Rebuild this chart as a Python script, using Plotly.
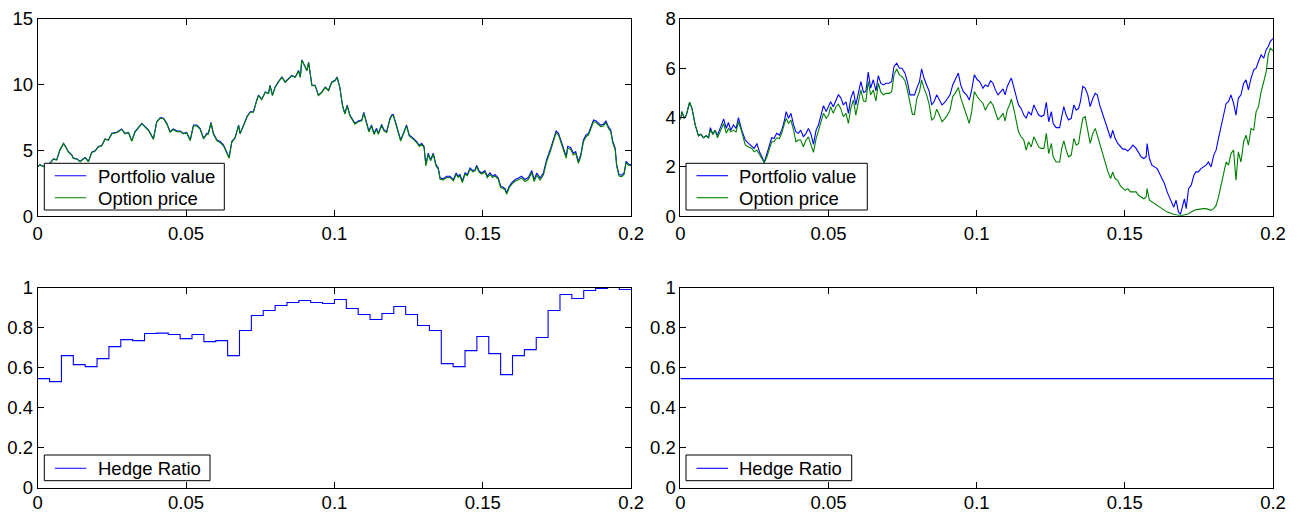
import plotly.graph_objects as go

# ---------------- data ----------------
# Top-left: delta-hedged portfolio vs option price
t_left = [0.0000, 0.0008, 0.0019, 0.0030, 0.0042, 0.0053, 0.0064, 0.0075, 0.0087, 0.0094,
          0.0103, 0.0115, 0.0120, 0.0132, 0.0143, 0.0154, 0.0160, 0.0171, 0.0182, 0.0193,
          0.0205, 0.0216, 0.0227, 0.0238, 0.0250, 0.0266, 0.0283, 0.0294, 0.0306, 0.0317,
          0.0328, 0.0339, 0.0351, 0.0362, 0.0373, 0.0390, 0.0401, 0.0413, 0.0424, 0.0435,
          0.0446, 0.0457, 0.0469, 0.0480, 0.0491, 0.0502, 0.0514, 0.0525, 0.0536, 0.0547,
          0.0559, 0.0570, 0.0575, 0.0584, 0.0592, 0.0604, 0.0615, 0.0626, 0.0637, 0.0645,
          0.0654, 0.0665, 0.0677, 0.0682, 0.0694, 0.0705, 0.0716, 0.0727, 0.0738, 0.0744,
          0.0755, 0.0767, 0.0778, 0.0783, 0.0791, 0.0800, 0.0812, 0.0823, 0.0834, 0.0845,
          0.0856, 0.0868, 0.0879, 0.0885, 0.0890, 0.0902, 0.0907, 0.0913, 0.0924, 0.0935,
          0.0946, 0.0958, 0.0969, 0.0980, 0.0991,
          0.1002, 0.1009, 0.1018, 0.1027, 0.1035, 0.1043, 0.1052, 0.1063, 0.1069,
          0.1080, 0.1092, 0.1099, 0.1108, 0.1116, 0.1125, 0.1133, 0.1142, 0.1148, 0.1159,
          0.1167, 0.1176, 0.1187, 0.1193, 0.1198, 0.1207, 0.1215, 0.1223, 0.1232, 0.1243,
          0.1252, 0.1260, 0.1268, 0.1277, 0.1286, 0.1294, 0.1302, 0.1308, 0.1316, 0.1324,
          0.1333, 0.1342, 0.1350, 0.1356, 0.1367, 0.1378, 0.1389, 0.1401, 0.1410, 0.1417,
          0.1423, 0.1431, 0.1440, 0.1448, 0.1457, 0.1466, 0.1474, 0.1479, 0.1488, 0.1496,
          0.1507, 0.1515, 0.1524, 0.1533, 0.1541, 0.1552, 0.1560, 0.1569, 0.1575, 0.1580,
          0.1589, 0.1597, 0.1609, 0.1620, 0.1631, 0.1642, 0.1654, 0.1665, 0.1673, 0.1682,
          0.1693, 0.1704, 0.1715, 0.1727, 0.1738, 0.1747, 0.1755, 0.1764, 0.1772, 0.1781,
          0.1786, 0.1796, 0.1805, 0.1813, 0.1822, 0.1830, 0.1839, 0.1848, 0.1856, 0.1864,
          0.1873, 0.1882, 0.1890, 0.1897, 0.1906, 0.1915, 0.1923, 0.1931, 0.1938, 0.1946,
          0.1951, 0.1959, 0.1968, 0.1976, 0.1983, 0.1991, 0.2000]

portfolio_left = [3.79, 3.92, 3.79, 3.92, 4.05, 4.37, 4.30, 5.05, 5.55, 5.30,
                  4.92, 4.67, 4.42, 4.37, 4.17, 4.37, 4.47, 4.17, 4.87, 4.97,
                  5.30, 5.38, 5.88, 5.80, 6.30, 6.38, 6.63, 6.30, 6.38, 5.73,
                  6.43, 6.73, 7.06, 6.80, 6.56, 5.88, 7.19, 7.49, 7.44, 7.06,
                  6.43, 6.63, 6.48, 6.48, 6.30, 6.38, 5.80, 6.93, 6.93, 6.68,
                  5.93, 6.30, 6.30, 7.14, 6.30, 5.80, 5.68, 5.43, 4.92, 4.47,
                  5.68, 5.98, 6.93, 6.30, 6.93, 7.56, 7.94, 7.94, 8.82, 9.20,
                  8.90, 9.45, 9.35, 9.95, 9.20, 9.82, 10.25, 10.58, 10.20, 10.45,
                  10.70, 10.58, 11.08, 10.58, 11.88, 11.33, 11.08, 11.70, 9.95, 9.95,
                  9.20, 9.45, 9.82, 9.57, 10.20,
                  10.33, 10.58, 9.82, 8.44, 7.81, 8.44, 7.69, 7.31, 7.06,
                  7.24, 7.31, 7.89, 7.19, 6.48, 6.93, 6.30, 6.68, 6.30, 6.98,
                  6.56, 6.43, 7.44, 7.69, 7.74, 7.06, 6.43, 5.80, 6.30, 6.93,
                  6.18, 6.06, 5.88, 5.68, 5.38, 5.55, 5.30, 3.92, 4.80, 4.30,
                  4.80, 3.92, 3.67, 2.91, 2.86, 3.04, 3.04, 2.79, 3.29, 3.04,
                  3.17, 2.66, 3.29, 3.17, 3.67, 3.47, 3.54, 3.87, 3.42, 3.29,
                  3.47, 3.04, 3.29, 3.04, 3.17, 2.91, 2.29, 2.21, 2.11, 1.78,
                  2.29, 2.54, 2.79, 2.91, 3.04, 2.79, 2.96, 3.47, 2.79, 3.29,
                  2.91, 3.29, 4.30, 5.05, 5.80, 6.48, 6.30, 5.68, 5.05, 4.55,
                  5.30, 5.23, 4.80, 4.92, 4.17, 4.67, 5.80, 6.18, 6.30, 6.81,
                  7.31, 7.24, 7.06, 6.93, 6.98, 7.24, 6.81, 6.56, 5.68, 5.18,
                  3.92, 3.17, 3.12, 3.29, 4.17, 3.97, 3.92]

option_left = [3.77, 3.90, 3.77, 3.90, 4.03, 4.34, 4.27, 5.02, 5.52, 5.27,
               4.89, 4.64, 4.39, 4.34, 4.14, 4.34, 4.44, 4.14, 4.84, 4.94,
               5.27, 5.35, 5.85, 5.77, 6.27, 6.35, 6.60, 6.27, 6.35, 5.70,
               6.40, 6.70, 7.03, 6.77, 6.53, 5.85, 7.16, 7.46, 7.41, 7.02,
               6.38, 6.58, 6.43, 6.43, 6.25, 6.33, 5.74, 6.87, 6.87, 6.62,
               5.87, 6.24, 6.24, 7.08, 6.24, 5.73, 5.60, 5.35, 4.84, 4.40,
               5.62, 5.93, 6.88, 6.26, 6.89, 7.52, 7.90, 7.90, 8.78, 9.17,
               8.87, 9.42, 9.32, 9.92, 9.17, 9.79, 10.22, 10.55, 10.17, 10.42,
               10.67, 10.55, 11.05, 10.55, 11.85, 11.30, 11.05, 11.67, 9.92, 9.92,
               9.17, 9.42, 9.79, 9.54, 10.17,
               10.29, 10.54, 9.78, 8.40, 7.76, 8.39, 7.64, 7.26, 7.00,
               7.18, 7.25, 7.82, 7.12, 6.41, 6.86, 6.22, 6.60, 6.22, 6.90,
               6.48, 6.35, 7.36, 7.61, 7.66, 6.98, 6.35, 5.72, 6.22, 6.85,
               6.10, 5.98, 5.80, 5.60, 5.30, 5.46, 5.21, 3.83, 4.71, 4.21,
               4.71, 3.83, 3.58, 2.82, 2.77, 2.95, 2.95, 2.70, 3.20, 2.95,
               3.08, 2.57, 3.20, 3.08, 3.58, 3.38, 3.45, 3.78, 3.33, 3.20,
               3.37, 2.94, 3.19, 2.94, 3.07, 2.81, 2.19, 2.11, 2.01, 1.68,
               2.17, 2.42, 2.66, 2.78, 2.90, 2.64, 2.81, 3.32, 2.64, 3.13,
               2.75, 3.13, 4.14, 4.90, 5.65, 6.34, 6.16, 5.54, 4.91, 4.41,
               5.16, 5.09, 4.66, 4.78, 4.03, 4.53, 5.67, 6.05, 6.17, 6.68,
               7.19, 7.12, 6.94, 6.81, 6.86, 7.12, 6.69, 6.44, 5.56, 5.06,
               3.80, 3.05, 3.01, 3.18, 4.07, 3.87, 3.84]

# Top-right: static hedge portfolio vs option price
t_right = [0.0000, 0.0005, 0.0013, 0.0020, 0.0031, 0.0039, 0.0050, 0.0061, 0.0069, 0.0078,
           0.0087, 0.0095, 0.0101, 0.0110, 0.0117, 0.0125, 0.0134, 0.0146, 0.0155, 0.0162,
           0.0170, 0.0179, 0.0188, 0.0196, 0.0207, 0.0219, 0.0230, 0.0241, 0.0249, 0.0258,
           0.0267, 0.0275, 0.0283, 0.0292, 0.0301, 0.0308, 0.0316, 0.0325, 0.0334, 0.0342,
           0.0350, 0.0357, 0.0365, 0.0373, 0.0382, 0.0390, 0.0398, 0.0406, 0.0415, 0.0424,
           0.0432, 0.0440, 0.0449, 0.0458, 0.0466, 0.0474, 0.0483, 0.0492, 0.0500, 0.0507,
           0.0516, 0.0525, 0.0533, 0.0541, 0.0550, 0.0559, 0.0567, 0.0575, 0.0584, 0.0592,
           0.0601, 0.0609, 0.0618, 0.0626, 0.0634, 0.0642, 0.0651, 0.0660, 0.0668, 0.0676,
           0.0685, 0.0694, 0.0705, 0.0713, 0.0721, 0.0730, 0.0739, 0.0748, 0.0758, 0.0766,
           0.0775, 0.0783, 0.0790, 0.0798, 0.0807, 0.0814, 0.0822, 0.0831, 0.0840, 0.0848,
           0.0856, 0.0865, 0.0874, 0.0883, 0.0893, 0.0901, 0.0910, 0.0919, 0.0927, 0.0938,
           0.0946, 0.0955, 0.0966, 0.0975, 0.0983, 0.0992,
           0.1002, 0.1010, 0.1021, 0.1029, 0.1038, 0.1047, 0.1055, 0.1063, 0.1072, 0.1081,
           0.1089, 0.1096, 0.1103, 0.1111, 0.1117, 0.1126, 0.1134, 0.1141, 0.1150, 0.1159,
           0.1167, 0.1175, 0.1184, 0.1193, 0.1201, 0.1209, 0.1218, 0.1227, 0.1235, 0.1243,
           0.1252, 0.1258, 0.1268, 0.1280, 0.1287, 0.1294, 0.1302, 0.1310, 0.1319, 0.1328,
           0.1336, 0.1344, 0.1350, 0.1358, 0.1366, 0.1375, 0.1383, 0.1392, 0.1400, 0.1407,
           0.1415, 0.1426, 0.1434, 0.1443, 0.1452, 0.1459, 0.1467, 0.1476, 0.1485, 0.1493,
           0.1501, 0.1510, 0.1519, 0.1527, 0.1538, 0.1546, 0.1555, 0.1564, 0.1572, 0.1575,
           0.1583, 0.1591, 0.1600, 0.1609, 0.1617, 0.1625, 0.1634, 0.1643, 0.1651, 0.1658,
           0.1665, 0.1673, 0.1681, 0.1688, 0.1696, 0.1701, 0.1707, 0.1715, 0.1724, 0.1733,
           0.1740, 0.1748, 0.1757, 0.1766, 0.1774, 0.1782, 0.1791, 0.1800, 0.1808, 0.1816,
           0.1825, 0.1834, 0.1842, 0.1850, 0.1858, 0.1867, 0.1875, 0.1883, 0.1892, 0.1901,
           0.1909, 0.1917, 0.1926, 0.1935, 0.1943, 0.1951, 0.1960, 0.1969, 0.1977, 0.1984,
           0.1991, 0.2000]

portfolio_right = [3.94, 4.24, 3.97, 4.10, 4.62, 4.37, 3.70, 3.26, 3.32, 3.18,
                   3.26, 3.18, 3.59, 3.32, 3.49, 3.28, 3.56, 3.94, 3.56, 3.80,
                   3.49, 3.70, 3.56, 4.00, 3.49, 3.09, 2.95, 2.82, 2.75, 2.95,
                   2.61, 2.41, 2.18, 2.54, 2.95, 3.18, 3.15, 3.36, 3.29, 3.49,
                   3.83, 4.24, 3.97, 4.17, 3.70, 3.42, 3.36, 3.49, 3.22, 3.36,
                   3.56, 3.36, 2.91, 3.49, 3.70, 4.10, 4.48, 4.24, 4.44, 4.64,
                   4.44, 4.71, 4.92, 4.81, 4.51, 4.64, 4.17, 4.78, 5.08, 4.51,
                   5.05, 5.46, 5.02, 5.05, 5.84, 5.19, 5.53, 5.08, 5.70, 5.39,
                   5.32, 5.39, 5.39, 5.46, 6.07, 6.20, 6.00, 6.00, 5.80, 5.46,
                   4.92, 4.92, 4.92, 5.19, 5.46, 5.97, 5.60, 5.32, 5.05, 4.51,
                   4.64, 4.92, 4.71, 4.51, 4.62, 4.78, 4.92, 5.32, 5.53, 5.80,
                   5.32, 5.05, 4.92, 4.71, 5.12, 5.73,
                   5.53, 5.46, 5.19, 5.32, 5.26, 5.49, 5.39, 5.12, 4.92, 5.05,
                   5.16, 4.92, 5.26, 5.46, 5.60, 5.19, 4.78, 4.51, 4.37, 4.10,
                   3.97, 4.24, 4.10, 4.51, 4.30, 4.10, 4.04, 4.10, 4.62, 3.83,
                   4.24, 3.76, 3.59, 3.59, 4.04, 4.44, 4.10, 3.90, 3.97, 4.51,
                   4.30, 4.37, 4.64, 5.26, 5.19, 4.92, 4.44, 4.78, 4.98, 4.92,
                   4.51, 4.10, 3.83, 3.56, 3.16, 3.49, 3.16, 2.95, 2.81, 2.72,
                   2.72, 2.64, 2.75, 2.88, 2.75, 2.61, 2.41, 2.34, 2.41, 2.95,
                   2.34, 2.07, 2.00, 1.93, 1.73, 1.53, 1.32, 0.98, 0.78, 0.58,
                   0.37, 0.65, 0.17, 0.10, 0.44, 0.71, 0.31, 1.12, 1.26, 1.66,
                   1.80, 1.80, 1.93, 2.00, 2.07, 2.20, 2.00, 2.48, 2.68, 3.16,
                   3.70, 4.10, 4.58, 4.64, 4.92, 4.58, 4.10, 4.78, 4.92, 5.39,
                   5.53, 5.12, 5.60, 5.93, 6.00, 6.27, 6.54, 6.41, 6.75, 6.88,
                   7.09, 7.20]

option_right = [3.90, 4.24, 3.97, 4.10, 4.62, 4.37, 3.70, 3.26, 3.32, 3.18,
                3.26, 3.18, 3.49, 3.32, 3.49, 3.18, 3.42, 3.76, 3.36, 3.56,
                3.42, 3.49, 3.42, 3.83, 3.42, 2.88, 2.81, 2.75, 2.61, 2.68,
                2.50, 2.34, 2.18, 2.41, 2.82, 3.02, 3.02, 3.18, 3.15, 3.36,
                3.70, 3.97, 3.76, 3.90, 3.49, 3.02, 3.09, 3.09, 2.82, 3.09,
                3.22, 2.95, 2.59, 3.15, 3.49, 3.90, 4.17, 3.97, 4.10, 4.44,
                4.17, 4.44, 4.54, 4.37, 4.04, 4.17, 3.76, 4.37, 4.71, 4.10,
                4.58, 5.12, 4.67, 4.65, 5.46, 4.92, 5.12, 4.67, 5.39, 5.05,
                4.92, 4.98, 4.98, 5.05, 5.73, 5.97, 5.73, 5.66, 5.49, 5.12,
                4.58, 4.13, 4.13, 4.78, 5.05, 5.53, 5.19, 4.92, 4.51, 3.90,
                3.97, 4.34, 4.10, 3.83, 3.97, 4.10, 4.30, 4.85, 4.98, 5.22,
                4.81, 4.51, 4.10, 3.76, 4.24, 5.05,
                4.85, 4.71, 4.58, 4.30, 4.51, 4.64, 4.51, 4.17, 3.90, 4.04,
                4.17, 3.86, 4.30, 4.51, 4.75, 4.30, 3.83, 3.42, 3.22, 3.09,
                2.68, 3.02, 2.81, 3.22, 3.02, 2.81, 2.75, 2.75, 3.36, 2.54,
                2.95, 2.41, 2.20, 2.20, 2.75, 3.05, 2.68, 2.41, 2.48, 3.15,
                2.88, 2.95, 3.42, 3.97, 4.04, 3.49, 2.95, 3.36, 3.56, 3.29,
                2.95, 2.54, 2.14, 1.80, 1.53, 1.80, 1.53, 1.46, 1.23, 1.12,
                1.05, 1.12, 0.99, 0.99, 0.99, 0.85, 0.78, 0.71, 0.78, 1.12,
                0.65, 0.58, 0.51, 0.44, 0.37, 0.31, 0.24, 0.17, 0.13, 0.10,
                0.08, 0.06, 0.04, 0.04, 0.04, 0.06, 0.08, 0.10, 0.17, 0.23,
                0.27, 0.28, 0.31, 0.31, 0.31, 0.27, 0.24, 0.31, 0.44, 0.78,
                1.26, 1.80, 2.20, 2.07, 2.54, 2.68, 1.46, 2.61, 2.20, 3.02,
                3.29, 2.88, 3.56, 3.49, 4.24, 4.44, 5.05, 5.46, 5.87, 6.54,
                6.81, 6.70]

# Bottom: hedge ratios (rebalanced every 0.004)
t_hedge = [0.000, 0.004, 0.008, 0.012, 0.016, 0.020, 0.024, 0.028, 0.032, 0.036,
           0.040, 0.044, 0.048, 0.052, 0.056, 0.060, 0.064, 0.068, 0.072, 0.076,
           0.080, 0.084, 0.088, 0.092, 0.096, 0.100, 0.104, 0.108, 0.112, 0.116,
           0.120, 0.124, 0.128, 0.132, 0.136, 0.140, 0.144, 0.148, 0.152, 0.156,
           0.160, 0.164, 0.168, 0.172, 0.176, 0.180, 0.184, 0.188, 0.192, 0.196, 0.200]
hedge_dynamic = [0.545, 0.530, 0.660, 0.615, 0.605, 0.645, 0.705, 0.740, 0.735, 0.770,
                 0.772, 0.765, 0.745, 0.765, 0.730, 0.735, 0.660, 0.785, 0.860, 0.885,
                 0.910, 0.925, 0.935, 0.925, 0.920, 0.940, 0.895, 0.865, 0.840, 0.870,
                 0.905, 0.865, 0.810, 0.785, 0.620, 0.605, 0.685, 0.755, 0.670, 0.565,
                 0.660, 0.690, 0.750, 0.885, 0.965, 0.945, 0.985, 0.995, 1.000, 0.990, 0.990]
t_static = [0.0, 0.2]
hedge_static = [0.545, 0.545]

x_ticks = [0, 0.05, 0.1, 0.15, 0.2]
x_ticklabels = ["0", "0.05", "0.1", "0.15", "0.2"]

# ---------------- figure ----------------
BLUE = "#0000ff"
GREEN = "#008000"
FONT = "Liberation Sans, Arial, Helvetica, sans-serif"
FS = 18.5
W, H = 1301, 513
LW = 1.1

fig = go.Figure()

traces = [
    (t_left, portfolio_left, BLUE, "Portfolio value", "x", "y", "linear"),
    (t_left, option_left, GREEN, "Option price", "x", "y", "linear"),
    (t_right, portfolio_right, BLUE, "Portfolio value", "x2", "y2", "linear"),
    (t_right, option_right, GREEN, "Option price", "x2", "y2", "linear"),
    (t_hedge, hedge_dynamic, BLUE, "Hedge Ratio", "x3", "y3", "hv"),
    (t_static, hedge_static, BLUE, "Hedge Ratio", "x4", "y4", "linear"),
]
for xs, ys, col, name, xa, ya, shp in traces:
    fig.add_trace(go.Scatter(x=xs, y=ys, mode="lines", name=name, showlegend=False,
                             line=dict(color=col, width=LW, shape=shp), xaxis=xa, yaxis=ya))

def px(x):
    return x / W

def py(y):
    return 1 - y / H

xl = [px(37.7), px(631.2)]
xr = [px(680.4), px(1273.0)]
yt = [py(216.3), py(18.8)]
yb = [py(487.8), py(287.5)]

tickfont = dict(family=FONT, size=FS, color="black")
axis_common = dict(showline=True, linecolor="black", linewidth=1, mirror="ticks",
                   ticks="inside", ticklen=6, tickcolor="black", tickwidth=1,
                   showgrid=False, zeroline=False, tickfont=tickfont)

def xaxis(domain, anchor, standoff=0):
    return dict(domain=domain, anchor=anchor, range=[0, 0.2], tickvals=x_ticks,
                ticktext=x_ticklabels, ticklabelstandoff=standoff, **axis_common)

def yaxis(domain, anchor, rng, dtick):
    return dict(domain=domain, anchor=anchor, range=rng, dtick=dtick, tick0=0, **axis_common)

# MATLAB-style legend boxes drawn as shapes + text
shapes = []
annotations = []

def legend_box(x0, y0, x1, y1, entries):
    shapes.append(dict(type="rect", xref="paper", yref="paper", x0=px(x0), x1=px(x1),
                       y0=py(y1), y1=py(y0), line=dict(color="black", width=1),
                       fillcolor="white", layer="above"))
    for (yc, col, label) in entries:
        shapes.append(dict(type="line", xref="paper", yref="paper", x0=px(x0 + 10.5),
                           x1=px(x0 + 42), y0=py(yc), y1=py(yc),
                           line=dict(color=col, width=LW), layer="above"))
        annotations.append(dict(xref="paper", yref="paper", x=px(x0 + 52.4), y=py(yc + 0.5),
                                xanchor="left", yanchor="middle", text=label, showarrow=False,
                                borderpad=0, font=dict(family=FONT, size=FS, color="black")))

legend_box(44.3, 163.3, 224.3, 210.0, [(175.7, BLUE, "Portfolio value"),
                                       (197.7, GREEN, "Option price")])
legend_box(686.0, 163.3, 867.3, 210.0, [(175.7, BLUE, "Portfolio value"),
                                        (197.7, GREEN, "Option price")])
legend_box(44.3, 455.0, 210.0, 480.7, [(468.3, BLUE, "Hedge Ratio")])
legend_box(686.0, 455.0, 851.7, 480.7, [(468.3, BLUE, "Hedge Ratio")])

fig.update_layout(
    width=W, height=H,
    margin=dict(l=0, r=0, t=0, b=0, autoexpand=False),
    paper_bgcolor="white", plot_bgcolor="white",
    showlegend=False,
    xaxis=xaxis(xl, "y"), yaxis=yaxis(yt, "x", [0, 15], 5),
    xaxis2=xaxis(xr, "y2"), yaxis2=yaxis(yt, "x2", [0, 8], 2),
    xaxis3=xaxis(xl, "y3", -2), yaxis3=yaxis(yb, "x3", [0, 1], 0.2),
    xaxis4=xaxis(xr, "y4", -2), yaxis4=yaxis(yb, "x4", [0, 1], 0.2),
    shapes=shapes,
    annotations=annotations,
)

fig.write_html("out.html", config={"displayModeBar": False},
               post_script="document.body.style.margin='0px';")
